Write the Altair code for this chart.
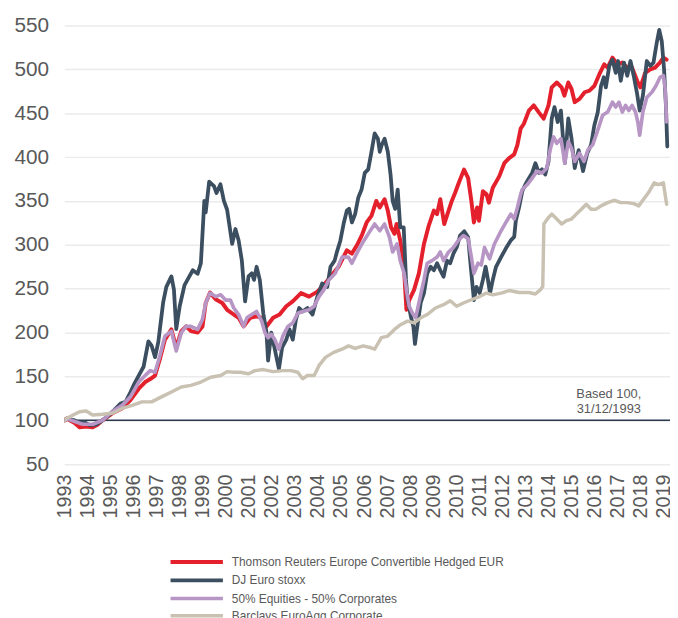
import altair as alt
import pandas as pd

SERIES = [
    "Thomson Reuters Europe Convertible Hedged EUR",
    "DJ Euro stoxx",
    "50% Equities - 50% Corporates",
    "Barclays EuroAgg Corporate",
]
COLORS = ["#E3202B", "#3C4F60", "#B796C6", "#C9C1B1"]
WIDTHS = [4, 3.5, 2.5, 2.5]
YEARS = list(range(1993, 2020))
Y_TICKS = list(range(50, 551, 50))

TR = [(1993.00,100),(1993.07,102),(1993.43,97),(1993.64,92),(1993.93,93),(1994.21,92),(1994.42,95),(1994.64,100),
      (1995.06,108),(1995.49,113.5),(1995.85,123),(1996.21,136),(1996.49,143.6),(1996.71,147),(1996.92,151),
      (1997.13,170),(1997.35,192),(1997.63,203.6),(1997.84,183),(1998.06,201.7),(1998.27,207),(1998.48,201.7),
      (1998.77,200),(1998.98,207),(1999.12,233.7),(1999.31,245.5),(1999.55,238),(1999.84,233.7),(2000.05,226),
      (2000.27,222),(2000.55,216.8),(2000.77,207),(2001.05,216.8),(2001.33,218.6),(2001.55,216.8),(2001.76,207),
      (2002.05,216.8),(2002.33,220.5),(2002.62,230),(2002.90,235.5),(2003.26,245),(2003.61,241),(2003.97,246.7),
      (2004.25,254),(2004.54,263.6),(2004.89,275),(2005.25,293.7),(2005.47,290),(2005.70,300),(2005.92,312),
      (2006.11,325.5),(2006.32,333),(2006.53,350),(2006.68,342.5),(2006.89,352),(2007.03,339),(2007.17,320),
      (2007.32,312.5),(2007.41,323.7),(2007.57,305),(2007.72,279),(2007.84,226),(2007.96,237),(2008.17,248.6),
      (2008.38,267.5),(2008.60,301),(2008.81,322),(2009.03,339),(2009.17,335),(2009.31,352),(2009.48,323.7),
      (2009.67,339),(2009.81,350),(2009.95,359),(2010.14,372.5),(2010.34,385.7),(2010.52,376),(2010.66,350),
      (2010.77,325.5),(2010.91,342.5),(2010.99,327.5),(2011.16,361),(2011.32,357.5),(2011.42,348),(2011.59,365),
      (2011.87,378),(2012.09,393),(2012.30,398.8),(2012.52,403),(2012.66,414),(2012.80,432.5),(2012.94,438),
      (2013.16,453),(2013.37,458.9),(2013.59,451),(2013.80,443.8),(2014.01,458.9),(2014.15,479.5),(2014.37,485),
      (2014.58,479.5),(2014.70,470),(2014.87,485),(2015.01,477.6),(2015.15,462.6),(2015.36,466.3),(2015.58,473.9),
      (2015.79,475.8),(2016.00,481),(2016.22,494.5),(2016.43,505.7),(2016.58,502),(2016.79,513.3),(2017.00,505.7),
      (2017.22,507.7),(2017.43,502),(2017.64,502),(2017.86,487),(2018.00,479.5),(2018.21,496),(2018.43,500),
      (2018.64,502),(2018.85,507.7),(2019.00,513.3),(2019.14,511)]

DJ = [(1993.00,100),(1993.07,102),(1993.43,100),(1993.64,97),(1993.85,98),(1994.07,94.5),(1994.35,95),(1994.64,100),
      (1994.92,106),(1995.14,111.6),(1995.42,119),(1995.64,121),(1995.85,132),(1995.99,140),(1996.21,151),
      (1996.42,161),(1996.63,190),(1996.77,185),(1996.92,172),(1997.06,189),(1997.27,234),(1997.41,252),
      (1997.63,264),(1997.74,249),(1997.84,204),(1997.99,230),(1998.20,254),(1998.41,264),(1998.56,271),
      (1998.77,267),(1998.91,279),(1999.06,350),(1999.12,337),(1999.27,372),(1999.48,367),(1999.59,359),
      (1999.76,369),(1999.91,350),(2000.05,340),(2000.27,301),(2000.41,318),(2000.55,305),(2000.69,282),
      (2000.83,235.5),(2000.98,264),(2001.12,267.5),(2001.22,260),(2001.33,275),(2001.47,260),(2001.62,222),
      (2001.76,200),(2001.83,168),(2001.97,200),(2002.12,181),(2002.30,158.5),(2002.44,183),(2002.62,192),
      (2002.76,203.6),(2002.90,192),(2003.04,215),(2003.18,228),(2003.33,224),(2003.54,228),(2003.76,220.5),
      (2003.97,241),(2004.18,256),(2004.40,252),(2004.54,275),(2004.72,282),(2004.82,292),(2004.97,305),
      (2005.11,324),(2005.25,339),(2005.35,341),(2005.47,325.5),(2005.61,335),(2005.75,354),(2005.89,363),
      (2006.03,382),(2006.18,386),(2006.32,406),(2006.46,427),(2006.60,421),(2006.68,406),(2006.77,414),
      (2006.89,421),(2007.03,406),(2007.15,380),(2007.24,350),(2007.35,341),(2007.46,363),(2007.57,320),
      (2007.72,320),(2007.82,260),(2007.89,237),(2008.03,218.6),(2008.14,207),(2008.21,187),(2008.31,207),
      (2008.46,234),(2008.60,245),(2008.74,267.5),(2008.89,275),(2009.03,271),(2009.17,279),(2009.31,271),
      (2009.45,263.6),(2009.60,282),(2009.74,279),(2009.88,290),(2010.02,297),(2010.17,310.6),(2010.35,315.5),
      (2010.52,308.7),(2010.62,279),(2010.77,237),(2010.88,252),(2011.02,245),(2011.16,260),(2011.28,275),
      (2011.38,260),(2011.47,245),(2011.59,260),(2011.73,275),(2011.95,286),(2012.16,296),(2012.37,305),
      (2012.52,309),(2012.59,327.5),(2012.73,342.5),(2012.87,361),(2013.01,369),(2013.16,376),(2013.30,382),
      (2013.44,393),(2013.59,382),(2013.73,386),(2013.87,380),(2014.01,395),(2014.15,444),(2014.27,457),
      (2014.41,440),(2014.55,453),(2014.72,393),(2014.87,444),(2015.01,421),(2015.15,387.5),(2015.32,408),
      (2015.51,384),(2015.69,404),(2015.86,414),(2016.00,436),(2016.15,451),(2016.29,481),(2016.41,491),
      (2016.50,479.5),(2016.65,504),(2016.79,511),(2016.93,496),(2017.03,509.5),(2017.15,487),(2017.29,507.7),
      (2017.43,492.7),(2017.57,509.5),(2017.71,492.7),(2017.86,472),(2017.97,453),(2018.11,470),(2018.28,509.5),
      (2018.43,504),(2018.57,507.7),(2018.71,530),(2018.82,545),(2018.93,532),(2019.03,500),(2019.11,459),
      (2019.17,412)]

MIX = [(1993.00,100),(1993.07,102),(1993.43,98.7),(1993.78,95.5),(1994.21,95.5),(1994.64,100),(1995.06,110),
       (1995.49,117),(1995.85,126.7),(1996.21,143.6),(1996.49,151),(1996.71,156.6),(1996.92,154.8),(1997.13,173.5),
       (1997.35,196),(1997.63,201.7),(1997.84,179),(1998.06,200),(1998.27,207),(1998.48,207),(1998.77,203.6),
       (1998.98,215),(1999.12,233.7),(1999.31,245),(1999.55,241),(1999.77,243),(1999.98,237),(2000.19,237),
       (2000.34,228),(2000.55,220.5),(2000.77,207),(2000.91,216.8),(2001.12,220.5),(2001.33,224),(2001.55,213),
       (2001.69,200),(2001.83,194),(2001.97,198),(2002.12,192),(2002.30,181),(2002.47,196),(2002.69,207),
       (2002.90,211),(2003.12,222),(2003.33,224),(2003.61,226),(2003.83,230),(2004.04,241),(2004.25,248.6),
       (2004.47,260),(2004.75,267.5),(2005.04,286),(2005.32,286),(2005.47,279),(2005.75,293.7),(2005.95,303),
       (2006.18,312.5),(2006.46,323.7),(2006.68,316),(2006.89,323.7),(2007.10,308.7),(2007.24,291.8),(2007.43,301),
       (2007.57,282),(2007.74,267.5),(2007.86,245),(2007.96,230),(2008.10,222),(2008.24,216.8),(2008.38,233.7),
       (2008.60,260),(2008.74,279),(2008.95,282),(2009.17,286),(2009.31,291.8),(2009.45,282),(2009.67,291.8),
       (2009.88,297),(2010.09,305),(2010.31,310.6),(2010.52,306.9),(2010.66,286),(2010.77,267.5),(2010.95,279),
       (2011.09,277),(2011.23,297),(2011.45,284),(2011.66,301),(2011.95,316),(2012.16,325.5),(2012.37,335),
       (2012.52,329.4),(2012.66,342.5),(2012.80,357.5),(2012.87,363),(2013.09,368.7),(2013.30,376),(2013.51,383.8),
       (2013.73,381.9),(2013.94,387.5),(2014.08,408),(2014.23,423),(2014.37,415.6),(2014.55,421),(2014.72,393),
       (2014.87,417.6),(2015.01,410),(2015.15,395),(2015.36,404.4),(2015.55,395),(2015.72,408),(2015.93,413.9),
       (2016.15,430.7),(2016.36,447.6),(2016.58,451.3),(2016.79,462.6),(2016.93,457),(2017.07,462.6),(2017.22,451.3),
       (2017.36,458.9),(2017.50,453),(2017.64,458.9),(2017.79,451.3),(2017.89,440),(2017.97,425),(2018.11,451.3),
       (2018.28,468),(2018.50,473.9),(2018.68,481.4),(2018.85,490.8),(2019.00,492.7),(2019.08,477.6),(2019.14,440)]

AGG = [(1993.00,100),(1993.07,102),(1993.36,106),(1993.64,109.8),(1993.93,110.5),(1994.21,106),(1994.64,106.8),
       (1995.06,108),(1995.49,113.5),(1995.92,117),(1996.35,121),(1996.77,121),(1997.20,126.7),(1997.63,132.3),
       (1998.06,137.9),(1998.48,139.8),(1998.91,143.6),(1999.34,149),(1999.77,151),(2000.05,155.5),(2000.34,154.8),
       (2000.62,154.8),(2000.98,153),(2001.26,156.6),(2001.62,157.8),(2002.05,155.5),(2002.47,156.6),(2002.83,156.6),
       (2003.12,154.8),(2003.33,147.3),(2003.54,151),(2003.83,151),(2004.04,162.3),(2004.32,171.7),(2004.68,177.4),
       (2005.04,181),(2005.32,184.8),(2005.61,181.9),(2005.96,184.8),(2006.25,183),(2006.46,181),(2006.75,194.3),
       (2007.03,196),(2007.32,203.6),(2007.60,209.2),(2007.89,213),(2008.17,211),(2008.46,216.8),(2008.74,220.5),
       (2009.10,228),(2009.45,231.8),(2009.74,236.3),(2010.02,230),(2010.31,233.7),(2010.66,237.4),(2011.02,241),
       (2011.31,245),(2011.59,243),(2011.95,245),(2012.30,247.9),(2012.73,245.6),(2013.16,245.6),(2013.44,244),
       (2013.65,248.6),(2013.76,252.4),(2013.81,323.7),(2014.01,331.2),(2014.15,335),(2014.37,329.4),(2014.58,323.7),
       (2014.79,327.5),(2015.01,329.4),(2015.22,335),(2015.44,340.6),(2015.65,346.2),(2015.86,340.6),(2016.08,340.6),
       (2016.29,344.4),(2016.58,348.1),(2016.86,350.8),(2017.15,348.1),(2017.43,348.1),(2017.71,347),(2017.93,344.4),
       (2018.14,352),(2018.35,359.3),(2018.60,370.6),(2018.78,368.7),(2019.00,370.6),(2019.14,346.2)]

NOTE_LINES = ["Based 100,", "31/12/1993"]

rows = []
for name, pts in zip(SERIES, [TR, DJ, MIX, AGG]):
    for i, (t, v) in enumerate(pts):
        rows.append({"series": name, "t": t, "v": v, "order": i})
df = pd.DataFrame(rows)

FONT = "Liberation Sans"
GRAY = "#595959"

x_scale = alt.Scale(domain=[1992.9785, 2019.2876], nice=False, zero=False)
y_scale = alt.Scale(domain=[50, 550], nice=False, zero=False)

base_rule = alt.Chart(pd.DataFrame({"v": [100]})).mark_rule(
    color="#2B3A50", strokeWidth=1.5
).encode(y=alt.Y("v:Q", scale=y_scale))

lines = alt.Chart(df).mark_line(clip=True, strokeJoin="round", strokeCap="round").encode(
    x=alt.X("t:Q", scale=x_scale, axis=alt.Axis(
        values=YEARS, tickCount=40, format="d", labelAngle=270, labelFontSize=20, labelColor=GRAY,
        labelFont=FONT, labelPadding=10, grid=False, ticks=False, domain=False,
        title=None, labelFlush=False, labelOverlap=False, labelSeparation=0)),
    y=alt.Y("v:Q", scale=y_scale, axis=alt.Axis(
        values=Y_TICKS, tickCount=20, labelFontSize=21, labelColor=GRAY, labelFont=FONT,
        labelPadding=16, grid=True, gridColor="#EBEBEB", gridWidth=1.5,
        ticks=False, domain=False, title=None)),
    color=alt.Color("series:N", scale=alt.Scale(domain=SERIES, range=COLORS),
                    legend=alt.Legend(title=None, orient="none", legendX=128, legendY=537,
                                      symbolType="M-26.5,0H26.5", symbolSize=4, symbolStrokeWidth=4,
                                      labelFontSize=12, labelColor=GRAY, labelFont=FONT,
                                      labelLimit=500, rowPadding=2.5, labelOffset=29.5, padding=0,
                                      direction="vertical")),
    strokeWidth=alt.StrokeWidth("series:N", scale=alt.Scale(domain=SERIES, range=WIDTHS), legend=None),
    order=alt.Order("order:Q"),
)

note = alt.Chart(pd.DataFrame({"t": [2016.63, 2016.63], "v": [125.5, 108.6], "label": NOTE_LINES})).mark_text(
    align="center", baseline="alphabetic", fontSize=13, color=GRAY, font=FONT
).encode(x=alt.X("t:Q", scale=x_scale), y=alt.Y("v:Q", scale=y_scale), text="label:N")

chart = alt.layer(base_rule, lines, note).properties(
    width=613, height=444,
    padding={"left": 57, "top": 14, "right": 0, "bottom": 152},
    autosize=alt.AutoSizeParams(type="none"),
).configure_view(stroke=None).configure_axis(labelOverlap=False)

chart.save("out.html", embed_options={"renderer": "svg", "actions": False})
